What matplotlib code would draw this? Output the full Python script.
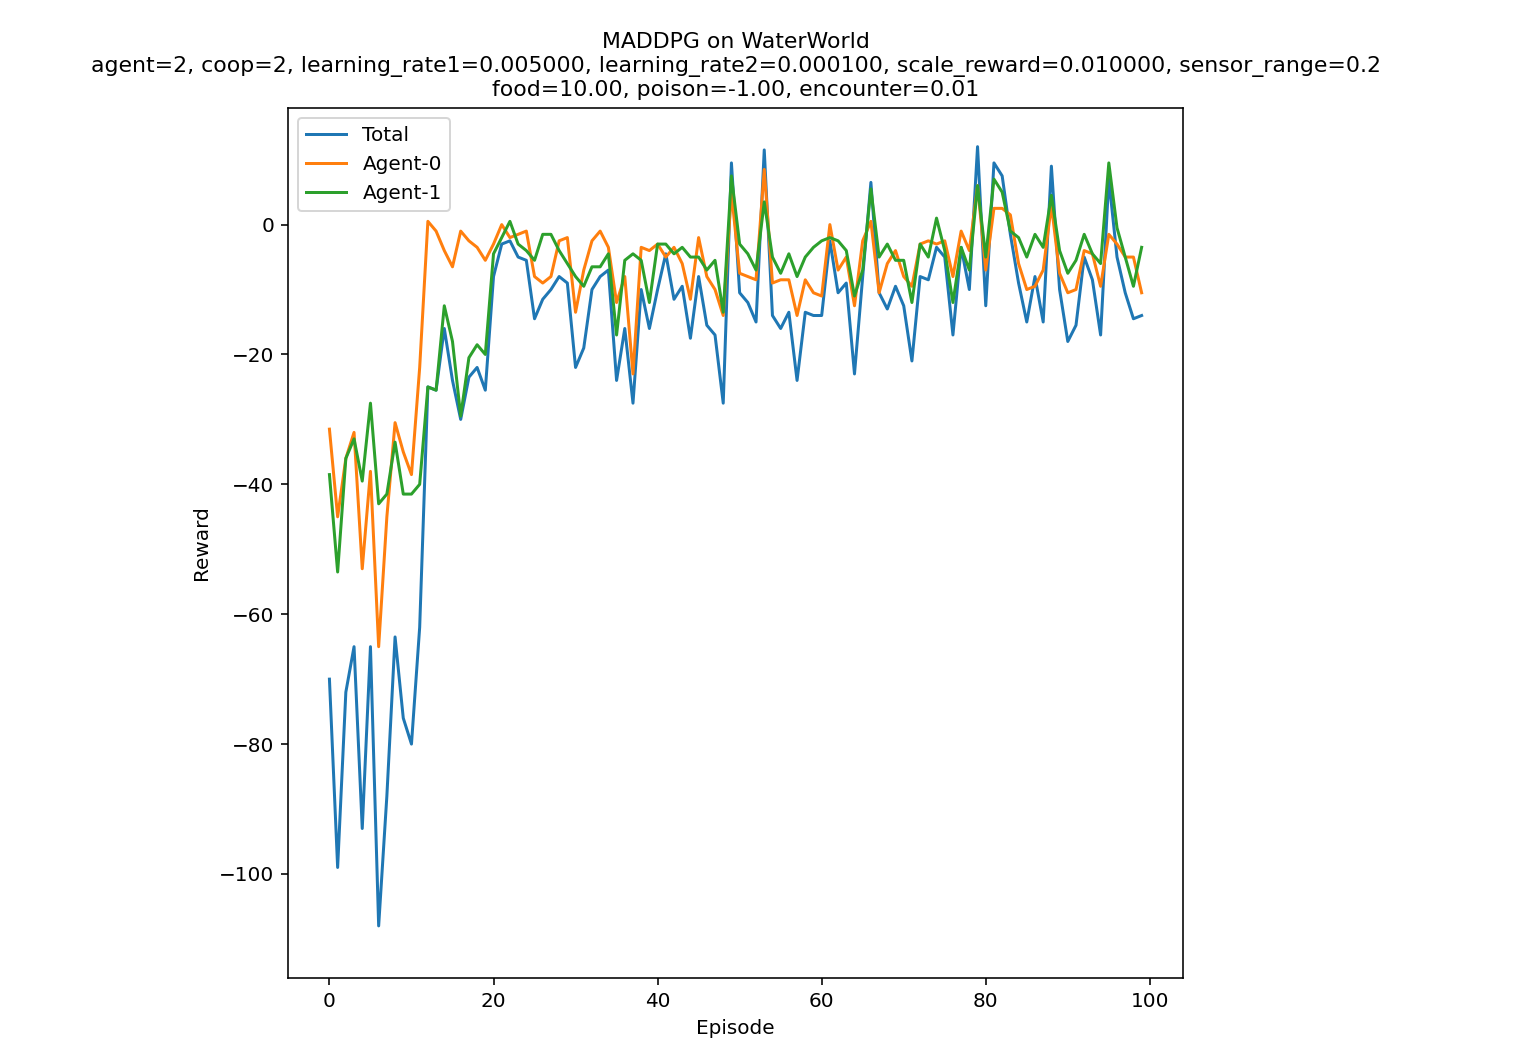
import numpy as np
import matplotlib
matplotlib.use("Agg")
import matplotlib.pyplot as plt

episodes = np.arange(100)

total = [-70, -99, -72, -65, -93, -65, -108, -88, -63.5, -76,
         -80, -62, -25, -25.5, -16, -24, -30, -23.5, -22, -25.5,
         -8, -3, -2.5, -5, -5.5, -14.5, -11.5, -10, -8, -9,
         -22, -19, -10, -8, -7, -24, -16, -27.5, -10, -16,
         -10, -4.5, -11.5, -9.5, -17.5, -8, -15.5, -17, -27.5, 9.5,
         -10.5, -12, -15, 11.5, -14, -16, -13.5, -24, -13.5, -14,
         -14, -2.5, -10.5, -9, -23, -8, 6.5, -10.5, -13, -9.5,
         -12.5, -21, -8, -8.5, -3.5, -5, -17, -3.5, -10, 12,
         -12.5, 9.5, 7.5, -1.5, -9, -15, -8, -15, 9, -10,
         -18, -15.5, -5, -8.5, -17, 7, -5, -10.5, -14.5, -14]

agent0 = [-31.5, -45, -36, -32, -53, -38, -65, -45, -30.5, -35,
          -38.5, -22, 0.5, -1, -4, -6.5, -1, -2.5, -3.5, -5.5,
          -3, 0, -2, -1.5, -1, -8, -9, -8, -2.5, -2,
          -13.5, -7, -2.5, -1, -3.5, -12, -8, -23, -3.5, -4,
          -3, -5, -3.5, -6, -11.5, -2, -8, -10, -14, 5,
          -7.5, -8, -8.5, 8.5, -9, -8.5, -8.5, -14, -8.5, -10.5,
          -11, 0, -7, -5, -12.5, -2.5, 0.5, -10.5, -6, -4,
          -8, -9.5, -3, -2.5, -3, -2.5, -8, -1, -4, 6,
          -7, 2.5, 2.5, 1.5, -6, -10, -9.5, -7, 3, -7.5,
          -10.5, -10, -4, -4.5, -9.5, -1.5, -3, -5, -5, -10.5]

agent1 = [-38.5, -53.5, -36, -33, -39.5, -27.5, -43, -41.5, -33.5, -41.5,
          -41.5, -40, -25, -25.5, -12.5, -18, -29.5, -20.5, -18.5, -20,
          -4.5, -2, 0.5, -3, -4, -5.5, -1.5, -1.5, -4, -6,
          -8, -9.5, -6.5, -6.5, -4.5, -17, -5.5, -4.5, -5.5, -12,
          -3, -3, -4.5, -3.5, -5, -5, -7, -5.5, -13.5, 7.5,
          -3, -4.5, -7, 3.5, -5, -7.5, -4.5, -8, -5, -3.5,
          -2.5, -2, -2.5, -4, -11, -7, 5.5, -5, -3, -5.5,
          -5.5, -12, -3, -5, 1, -4, -12, -3.5, -7, 6,
          -5, 7, 5, -1, -2, -5, -1.5, -3.5, 4.5, -4,
          -7.5, -5.5, -1.5, -4.5, -6, 9.5, -0.5, -5, -9.5, -3.5]

fig = plt.figure(figsize=(1526 / 144, 1056 / 144), dpi=144)
ax = fig.add_axes([0.189, 0.074, 0.586, 0.824])

ax.plot(episodes, total, label="Total")
ax.plot(episodes, agent0, label="Agent-0")
ax.plot(episodes, agent1, label="Agent-1")

ax.set_xlim(-5, 104)
ax.set_ylim(-116, 18)
ax.set_xlabel("Episode")
ax.set_ylabel("Reward")
ax.set_title("MADDPG on WaterWorld\n"
             "agent=2, coop=2, learning_rate1=0.005000, learning_rate2=0.000100, "
             "scale_reward=0.010000, sensor_range=0.2\n"
             "food=10.00, poison=-1.00, encounter=0.01", fontsize=11)
ax.legend(loc="upper left")

fig.savefig("out.png", dpi=144)
